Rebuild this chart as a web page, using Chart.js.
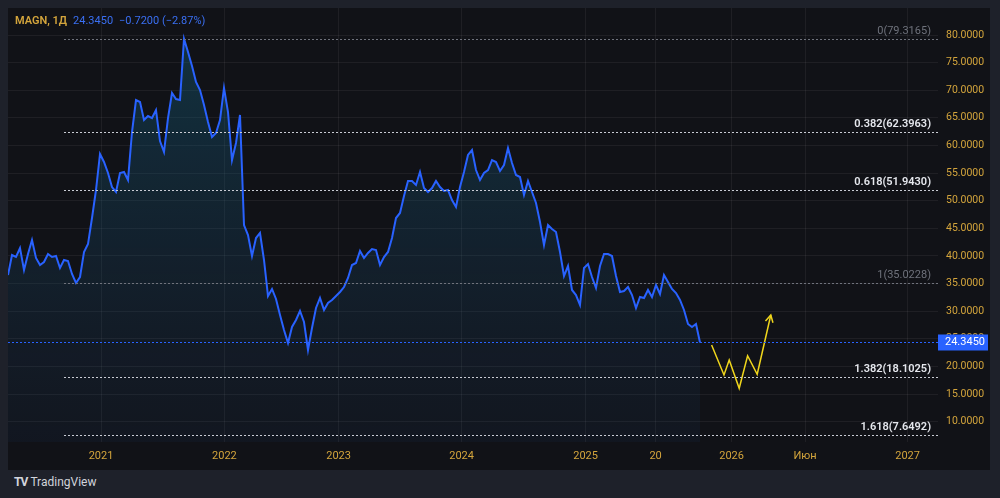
<!DOCTYPE html>
<html>
<head>
<meta charset="utf-8">
<script src="https://cdn.jsdelivr.net/npm/chart.js@4.4.0/dist/chart.umd.min.js"></script>
<style>
  html, body { margin: 0; padding: 0; width: 1000px; height: 498px; overflow: hidden; background: #1e212a; font-family: Roboto, 'Noto Sans', sans-serif; }
  #panel { position: absolute; left: 8px; top: 8px; width: 982px; height: 462px; background: #111217; }
  #legend { position: absolute; left: 15px; top: 14px; font-size: 11px; z-index: 2; white-space: nowrap; }
  #legend .sym { color: #d4a53c; font-weight: 600; margin-right: 6px; }
  #legend .val { color: #3a6ff2; margin-right: 6px; }
  #brand { position: absolute; left: 14px; top: 475px; font-size: 12px; color: #d1d4dc; }
  #brand b { letter-spacing: -1px; margin-right: 3px; }
</style>
</head>
<body>
<div id="panel"><canvas id="priceChart"></canvas></div>
<div id="legend"><span class="sym">MAGN, 1Д</span><span class="val">24.3450</span><span class="val">−0.7200 (−2.87%)</span></div>
<div id="brand"><b>TV</b>TradingView</div>
<script>
// closing prices, one value per bar (oldest first)
const closes = [
  36.55, 40.17, 39.81, 41.44, 37.46, 40.35, 42.89, 39.63, 38.36, 38.91,
  40.35, 39.81, 39.99, 37.82, 39.27, 39.09, 36.73, 35.10, 36.19, 40.72,
  42.16, 46.87, 51.94, 58.46, 57.01, 55.02, 52.48, 51.58, 55.02, 55.20,
  53.75, 62.44, 68.23, 67.87, 64.61, 65.34, 64.97, 66.42, 60.81, 58.82,
  64.97, 69.50, 68.41, 68.23, 79.30, 76.92, 74.39, 71.49, 70.04, 67.33,
  64.25, 61.53, 62.26, 64.61, 70.41, 66.06, 57.37, 60.45, 65.52, 45.60,
  43.79, 39.99, 43.25, 44.16, 39.27, 32.75, 34.02, 32.21, 29.31, 26.60,
  24.24, 27.14, 28.41, 30.04, 28.04, 22.98, 26.96, 30.58, 32.39, 30.22,
  31.48, 32.03, 32.75, 33.48, 34.38, 36.01, 38.36, 38.73, 40.90, 39.63,
  40.54, 41.26, 41.08, 38.36, 39.81, 40.72, 43.25, 46.87, 47.78, 50.85,
  53.57, 53.57, 52.85, 55.20, 52.30, 51.58, 52.30, 53.57, 52.48, 51.76,
  51.94, 50.13, 48.86, 52.48, 55.20, 58.28, 59.18, 55.56, 53.75, 55.02,
  55.56, 57.37, 57.01, 55.38, 56.47, 59.54, 56.83, 54.66, 54.29, 51.04,
  53.57, 51.58, 49.59, 46.15, 41.98, 45.60, 44.88, 44.34, 40.72, 36.37,
  38.18, 33.84, 32.93, 31.12, 37.82, 38.54, 36.19, 34.20, 38.18, 40.35,
  40.35, 39.99, 36.37, 33.48, 33.66, 34.38, 32.93, 30.58, 32.57, 32.39,
  33.84, 32.57, 34.74, 33.11, 36.55, 35.29, 34.02, 33.29, 32.03, 30.22,
  27.68, 27.14, 27.68, 24.345
];
const lastPrice = 24.345;

// hand-drawn forecast path (bar position, price)
const projBars = [175.9, 179.0, 180.3, 182.8, 184.9, 187.3, 190.7];
const projPrices = [23.88, 18.45, 21.17, 16.04, 21.94, 18.58, 29.31];

// fibonacci levels
const fibRatios = [0, 0.382, 0.618, 1, 1.382, 1.618];
const fibValues = [79.3165, 62.3963, 51.9430, 35.0228, 18.1025, 7.6492];
const fibStartBar = 14;

// axis ticks
const timeTickBars = [23.25, 54.1, 82.65, 113.4, 144.4, 161.9, 180.9, 199.25, 224.9];
const timeTickLabels = ['2021', '2022', '2023', '2024', '2025', '20', '2026', 'Июн', '2027'];
const priceTicks = [10, 15, 20, 25, 30, 35, 40, 45, 50, 55, 60, 65, 70, 75, 80];

const gold = '#d4a53c';
const gridColor = 'rgba(255,255,255,0.06)';

const overlays = {
  id: 'overlays',
  afterDatasetsDraw(chart) {
    const { ctx, chartArea, scales } = chart;
    const x = scales.x, y = scales.y;
    ctx.save();

    // fib levels
    const x0 = x.getPixelForValue(fibStartBar);
    fibRatios.forEach((r, i) => {
      const py = Math.round(y.getPixelForValue(fibValues[i])) + 0.5;
      const dim = (r === 0 || r === 1);
      ctx.strokeStyle = dim ? '#6f727c' : '#c9ccd4';
      ctx.lineWidth = 1;
      ctx.setLineDash([2, 2]);
      ctx.beginPath();
      ctx.moveTo(x0, py);
      ctx.lineTo(chartArea.right, py);
      ctx.stroke();
      ctx.setLineDash([]);
      ctx.font = (dim ? '400 ' : '600 ') + '11px Roboto, sans-serif';
      ctx.fillStyle = dim ? '#6f727c' : '#e6e8ee';
      ctx.textAlign = 'right';
      ctx.textBaseline = 'bottom';
      ctx.fillText(r + '(' + fibValues[i].toFixed(4) + ')', chartArea.right - 7, py - 3);
    });

    // last price line
    const pyLast = Math.round(y.getPixelForValue(lastPrice)) + 0.5;
    ctx.strokeStyle = '#2962ff';
    ctx.setLineDash([2, 2]);
    ctx.beginPath();
    ctx.moveTo(chartArea.left, pyLast);
    ctx.lineTo(chartArea.right, pyLast);
    ctx.stroke();
    ctx.setLineDash([]);

    // arrow head on forecast
    const n = projBars.length;
    const tx = x.getPixelForValue(projBars[n - 1]), ty = y.getPixelForValue(projPrices[n - 1]);
    const sx = x.getPixelForValue(projBars[n - 2]), sy = y.getPixelForValue(projPrices[n - 2]);
    const ang = Math.atan2(ty - sy, tx - sx);
    ctx.strokeStyle = '#f0d61c';
    ctx.lineWidth = 1.5;
    ctx.beginPath();
    ctx.moveTo(tx - 8 * Math.cos(ang - 0.5), ty - 8 * Math.sin(ang - 0.5));
    ctx.lineTo(tx, ty);
    ctx.lineTo(tx - 8 * Math.cos(ang + 0.5), ty - 8 * Math.sin(ang + 0.5));
    ctx.stroke();

    // price label on the axis
    ctx.fillStyle = '#2962ff';
    ctx.fillRect(chartArea.right, pyLast - 8, 50, 16);
    ctx.fillStyle = '#ffffff';
    ctx.font = '11px Roboto, sans-serif';
    ctx.textAlign = 'left';
    ctx.textBaseline = 'middle';
    ctx.fillText(lastPrice.toFixed(4), chartArea.right + 7, pyLast);
    ctx.restore();
  }
};

const canvas = document.getElementById('priceChart');
new Chart(canvas.getContext('2d'), {
  type: 'line',
  data: {
    datasets: [{
      data: closes.map((v, i) => ({ x: i, y: v })),
      borderColor: '#2962ff',
      borderWidth: 2,
      pointRadius: 0,
      tension: 0,
      fill: 'start',
      backgroundColor: (c) => {
        const area = c.chart.chartArea;
        if (!area) return 'transparent';
        const g = c.chart.ctx.createLinearGradient(0, area.top, 0, area.bottom);
        g.addColorStop(0, 'rgba(20,110,140,0.38)');
        g.addColorStop(1, 'rgba(30,60,100,0.12)');
        return g;
      }
    }, {
      data: projBars.map((b, i) => ({ x: b, y: projPrices[i] })),
      borderColor: '#f0d61c',
      borderWidth: 1.5,
      pointRadius: 0,
      tension: 0,
      fill: false
    }]
  },
  options: {
    responsive: true,
    maintainAspectRatio: false,
    animation: false,
    layout: { padding: 0 },
    plugins: {
      legend: { display: false },
      tooltip: { enabled: false }
    },
    scales: {
      x: {
        type: 'linear',
        min: 0,
        max: 232.5,
        grid: { color: gridColor, drawTicks: false },
        border: { display: false },
        afterBuildTicks: (s) => { s.ticks = timeTickBars.map(v => ({ value: v })); },
        afterFit: (s) => { s.height = 28; s.paddingLeft = 0; s.paddingRight = 0; },
        ticks: {
          color: gold,
          font: { size: 11, family: 'Roboto' },
          padding: 8,
          autoSkip: false,
          maxRotation: 0,
          callback: (v, i) => timeTickLabels[i]
        }
      },
      y: {
        position: 'right',
        min: 6.32,
        max: 84.89,
        grid: { color: gridColor, drawTicks: false },
        border: { display: false },
        afterBuildTicks: (s) => { s.ticks = priceTicks.map(v => ({ value: v })); },
        afterFit: (s) => { s.width = 52; s.paddingTop = 0; s.paddingBottom = 0; },
        ticks: {
          color: gold,
          font: { size: 10.5, family: 'Roboto' },
          padding: 8,
          callback: (v) => v.toFixed(4)
        }
      }
    }
  },
  plugins: [overlays]
});
</script>
</body>
</html>
